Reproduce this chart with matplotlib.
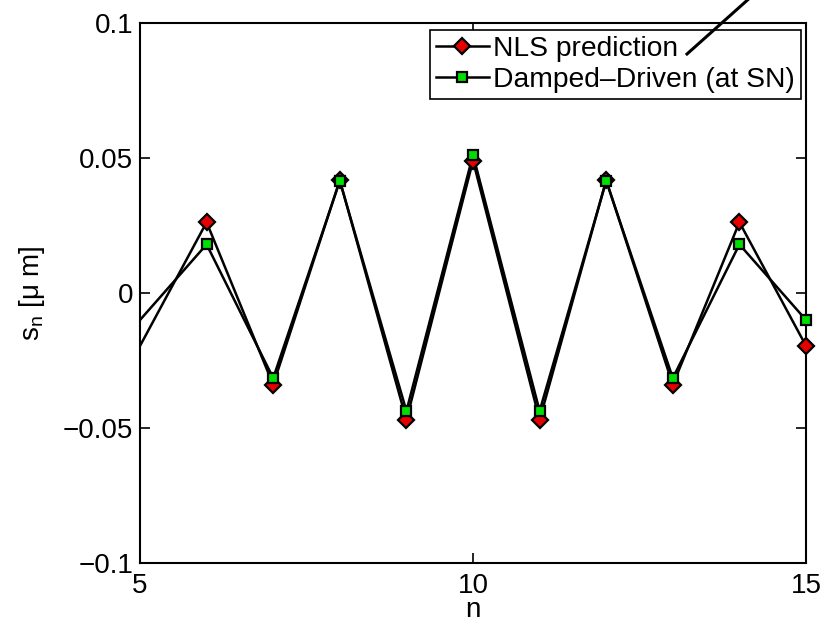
import numpy as np
import matplotlib.pyplot as plt
from matplotlib.lines import Line2D

plt.rcParams['font.family'] = ['Liberation Sans', 'DejaVu Sans']
plt.rcParams['mathtext.fontset'] = 'custom'
plt.rcParams['mathtext.rm'] = 'Liberation Sans'

# site index and displacement profiles (lines run past the axes and get clipped)
n = np.arange(4, 17)
s_nls = [0.012, -0.0196, 0.0262, -0.0340, 0.0418, -0.0470, 0.0490,
         -0.0470, 0.0418, -0.0340, 0.0262, -0.0196, 0.012]
s_dd = [0.006, -0.0100, 0.0180, -0.0315, 0.0415, -0.0437, 0.0512,
        -0.0437, 0.0415, -0.0315, 0.0180, -0.0100, 0.006]
marked = (n >= 6) & (n <= 15)

fig = plt.figure(figsize=(8.25, 6.23), dpi=100)
ax = fig.add_axes([0.1697, 0.0963, 0.8073, 0.8668])

series = [
    (s_nls, 'D', '#e80000', 8.5, 'NLS prediction'),
    (s_dd, 's', '#00e000', 7.5, 'Damped\u2013Driven (at SN)'),
]
handles = []
for vals, mk, fc, ms, lab in series:
    vals = np.asarray(vals)
    ax.plot(n, vals, color='black', lw=1.8)
    ax.plot(n[marked], vals[marked], ls='none', marker=mk, ms=ms,
            mfc=fc, mec='black', mew=1.6, clip_on=False, zorder=3)
    handles.append(Line2D([], [], color='black', lw=1.8, marker=mk, ms=ms,
                          mfc=fc, mec='black', mew=1.6, label=lab))

ax.set_xlim(5, 15)
ax.set_ylim(-0.1, 0.1)
ax.set_xticks([5, 10, 15])
ax.set_yticks([-0.1, -0.05, 0, 0.05, 0.1])
ax.set_yticklabels(['\u22120.1', '\u22120.05', '0', '0.05', '0.1'])
ax.tick_params(direction='in', length=7, width=1.2, labelsize=20,
               top=True, right=True, pad=5)
ax.tick_params(axis='x', pad=7)
for sp in ax.spines.values():
    sp.set_linewidth(1.5)

ax.set_xlabel('n', fontsize=20, labelpad=-1)
ax.set_ylabel('s$_\\mathregular{n}$ [\u03bc m]', fontsize=20, labelpad=11)

leg = ax.legend(handles=handles, loc='upper right', fontsize=20.3,
                bbox_to_anchor=(0.992, 0.987), borderaxespad=0,
                handlelength=1.9, handletextpad=0.15, labelspacing=0.2,
                borderpad=0.2, fancybox=False, framealpha=1,
                edgecolor='black')
leg.get_frame().set_linewidth(1.2)

# pointer line running off the top of the figure
fig.add_artist(Line2D([687 / 825, 752 / 825], [1 - 54 / 623, 1 + 4 / 623],
                      transform=fig.transFigure, color='black', lw=2.2,
                      clip_on=False))

fig.savefig('out.png', dpi=100)
